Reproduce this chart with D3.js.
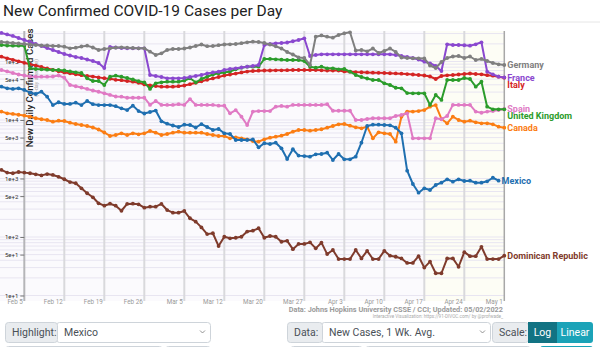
<!DOCTYPE html>
<html>
<head>
<meta charset="utf-8">
<script src="https://cdn.jsdelivr.net/npm/d3@7"></script>
<style>
  body { margin: 0; background: #fff; }
  svg { display: block; font-family: Roboto, "Helvetica Neue", Arial, sans-serif; }
</style>
</head>
<body>
<svg id="chart" width="600" height="347"></svg>
<script>
// Daily new cases, 7-day average, one value per day starting 2022-02-01
const firstDay = "2022-02-01";

const germany = [215500,211300,207200,203100,199200,195300,191500,187700,187700,184100,184100,179100,168100,172100,180500,186400,173500,157300,163600,168100,172100,174900,172100,170100,168100,168100,147100,129200,138100,157300,163600,163600,166800,173500,184100,195300,182600,184100,189900,195300,196800,199200,205500,213000,218100,215500,207200,195300,181900,166800,145400,131700,117000,114800,87100,265400,278400,265400,255200,283800,303400,315700,154200,157300,149400,166800,139700,151200,166800,145400,117000,114800,113400,113400,112500,85400,77400,98100,114800,121800,124200,114800,121800,106100,110400,102000,94300,89600,87100];

const france = [307200,289600,273000,252200,233200,215500,199200,184100,170100,157300,145400,134300,126600,119300,114800,108200,102000,94300,77400,177000,173500,170100,168100,168100,168100,168100,58800,56500,54300,51600,51600,51600,52200,54300,56500,58800,62300,64900,66900,71600,74400,76500,79000,81500,83800,87100,191500,199200,204700,207200,211300,222000,233000,249000,124200,129200,132700,132700,132700,132700,132700,132700,132700,132700,132700,132700,132700,132700,132700,129200,124200,119300,114800,108200,99200,93200,83800,68800,196800,191500,191500,189300,186400,196800,213000,66900,60400,54900,53500];

const italy = [120800,113400,106900,100800,95000,89600,85100,80500,76200,72100,68000,64900,62800,60400,58300,56500,55200,53500,51800,50600,48600,47900,46400,45100,43200,40600,39200,38100,37100,37100,37100,37800,38900,40900,43200,45900,48600,51400,54300,57400,59900,62100,64900,67200,68800,69600,70200,70200,70700,70700,71000,71600,71600,71600,71600,71600,70700,70200,70200,69900,67500,67000,66000,65500,65000,64500,64000,63600,63000,62400,61800,61000,59900,58700,57600,55400,50200,56500,58100,58800,59900,61100,62300,61100,60400,58300,57200,54900,52800];

const spain = [71600,67500,63600,59900,57600,55400,54900,54900,54900,55400,57600,52800,39600,37700,35900,33900,31900,30400,28600,26800,25200,25000,24000,24000,24000,24000,18100,21100,18100,18100,18100,18600,18100,22800,18100,18100,18100,18100,17600,17600,13000,14800,11400,8210,13900,14200,14200,14200,16900,17400,16900,18100,18100,18100,18100,18100,18100,18600,14400,14400,14400,14400,10000,10000,10400,10700,10700,10700,10700,11700,12200,13000,4860,4860,4860,4860,10700,10300,11700,18100,18100,18100,18100,13900,13300,13900,14200,14800,15400];

const unitedKingdom = [191500,187700,186400,186400,186400,76500,74400,73600,72400,71600,71600,70200,67500,65400,63600,51600,46400,46400,39600,54900,57200,54900,52200,49200,45900,44100,33900,42400,44100,45100,45100,45100,47300,51600,44100,50200,54900,59900,62800,64900,67500,73600,78300,81500,81500,81500,110400,110400,109000,107300,106100,106100,106100,102000,81500,78300,81500,76500,76500,73600,74400,66900,58800,54300,51200,48300,48300,42400,39600,35600,34800,28900,28600,28600,28600,18100,26800,22000,48300,48300,48300,52200,50200,37100,45100,16900,15200,15200,15200];

const canada = [13900,13000,12700,12300,11900,11400,10700,10300,10000,9350,9730,9610,8990,8540,8210,7900,7440,6880,6110,5330,5540,5920,5540,5920,5690,5920,6490,6070,5540,5760,6070,6310,6070,6070,6070,6070,5760,5540,5330,5330,4860,5060,4860,4680,4370,4260,4680,4980,5180,5390,5760,6310,6750,6750,6560,6750,6940,7390,7900,8440,8540,7990,7500,7210,7680,4860,6160,5920,5760,4260,11400,13900,13900,14200,14800,16900,18000,10400,8780,11400,10000,9350,9730,9130,8780,8780,8440,7680,7390];

const mexico = [37100,34800,33900,34800,32600,29300,27800,30500,25000,18000,20100,18800,18800,19800,18000,21100,18600,18000,18000,18000,17200,15800,14800,17600,14200,12900,13700,14500,9500,8640,8050,7590,8310,8210,7440,8480,7590,6750,7020,5920,5760,4550,4550,4550,4640,3410,4000,3890,4090,3280,2150,3160,2460,2420,2360,2590,2620,2760,2070,2620,2130,2130,2360,4090,7900,8310,8310,8210,8120,7390,5920,1360,805,572,680,636,774,848,969,882,969,906,917,848,848,896,1030,917];

const dominicanRepublic = [1400,1260,1230,1290,1260,1230,1180,1130,1190,1150,1070,970,870,830,680,560,477,377,343,371,343,281,367,371,362,317,330,330,367,289,260,260,278,209,183,146,112,116,70,101,95,97,101,124,128,141,97,104,101,83,86,62,76,76,81,64,80,51,60,42,42,42,60,43,58,42,42,58,48,46,43,36,36,47,30,38,24,24,43,43,31,55,47,47,68,42,42,42,48];

const countryNames = ["Dominican Republic","Canada","Spain","Italy","United Kingdom","France","Germany","Mexico"];
const countryValues = [dominicanRepublic, canada, spain, italy, unitedKingdom, france, germany, mexico];

const xTickLabels = ["Feb 5","Feb 12","Feb 19","Feb 26","Mar 5","Mar 12","Mar 20","Mar 27","Apr 3","Apr 10","Apr 17","Apr 24","May 1"];
const yTickValues = [10, 50, 100, 500, 1000, 5000, 10000, 50000, 100000];

// line colours per country
const palette = {
  "Germany": "#7f7f7f",
  "France": "#8a48cf",
  "Italy": "#d42424",
  "Spain": "#e07ac4",
  "United Kingdom": "#2b9c2b",
  "Canada": "#fb7d13",
  "Mexico": "#1f6fb0",
  "Dominican Republic": "#7f3b2c"
};

const svg = d3.select("#chart");
const parse = d3.utcParse("%Y-%m-%d");
const day0 = parse(firstDay);
const tickStart = d3.utcDay.offset(day0, 4);
const tickDates = xTickLabels.map((_, i) => d3.utcDay.offset(tickStart, 7 * i));

const plotTop = 31, plotBottom = 301, plotLeft = 0;
const x = d3.scaleUtc()
  .domain([tickDates[0], tickDates[tickDates.length - 1]])
  .range([24.3, 504.3]);
const y = d3.scaleLog()
  .domain([10, 332000])
  .range([295.5, 31]);
const plotRight = x(tickDates[tickDates.length - 1]);

// page title and header rule
svg.append("text")
  .attr("x", 3).attr("y", 16)
  .attr("font-size", 15.5).attr("fill", "#222")
  .text("New Confirmed COVID-19 Cases per Day");
svg.append("line")
  .attr("x1", 0).attr("x2", 600).attr("y1", 22).attr("y2", 22)
  .attr("stroke", "#e6e6e6");

// plot background and the highlighted recent weeks
svg.append("rect")
  .attr("x", plotLeft).attr("y", plotTop)
  .attr("width", plotRight - plotLeft).attr("height", plotBottom - plotTop)
  .attr("fill", "#fbfafd");
svg.append("rect")
  .attr("x", x(tickDates[10])).attr("y", plotTop)
  .attr("width", plotRight - x(tickDates[10])).attr("height", plotBottom - plotTop)
  .attr("fill", "#fdfdf5");

// horizontal log grid
const gridValues = [];
for (let e = 1; e <= 5; e++) {
  for (let k = 1; k <= 9; k++) {
    const v = k * Math.pow(10, e);
    if (v >= 10 && v <= 332000) gridValues.push(v);
  }
}
svg.append("g").selectAll("line").data(gridValues).join("line")
  .attr("x1", plotLeft).attr("x2", plotRight)
  .attr("y1", d => y(d)).attr("y2", d => y(d))
  .attr("stroke", "#e8e5f1").attr("stroke-width", 1);

// weekly vertical grid
svg.append("g").selectAll("line").data(tickDates.slice(1, -1)).join("line")
  .attr("x1", d => x(d)).attr("x2", d => x(d))
  .attr("y1", plotTop).attr("y2", plotBottom)
  .attr("stroke", "#d9d9dc").attr("stroke-width", 2);
svg.append("line")
  .attr("x1", plotRight).attr("x2", plotRight)
  .attr("y1", plotTop).attr("y2", plotBottom)
  .attr("stroke", "#a8a8a8").attr("stroke-width", 1.5);

// x axis labels
const xAxis = d3.axisBottom(x)
  .tickValues(tickDates)
  .tickFormat((d, i) => xTickLabels[i])
  .tickSize(0);
const gx = svg.append("g").attr("transform", `translate(0,${plotBottom - 6})`).call(xAxis);
gx.select(".domain").remove();
gx.selectAll("text")
  .attr("text-anchor", "end")
  .attr("dx", -2).attr("dy", "0.9em")
  .attr("font-size", 6.3).attr("fill", "#999")
  .attr("font-family", "Roboto, sans-serif");

// y axis
const yAxis = d3.axisLeft(y)
  .tickValues(yTickValues)
  .tickFormat(d3.format(".0e"))
  .tickSize(4).tickPadding(2);
const gy = svg.append("g").attr("transform", `translate(${x(tickDates[0])},0)`).call(yAxis);
gy.select(".domain")
  .attr("d", `M0,${plotTop}V${plotBottom}`)
  .attr("stroke", "#b5b5b8").attr("stroke-width", 2);
gy.selectAll(".tick line").attr("stroke", "#777");
gy.selectAll("text").attr("font-size", 6).attr("fill", "#333")
  .attr("font-family", "Roboto, sans-serif");

// y axis title
svg.append("text")
  .attr("transform", "translate(33,88) rotate(-90)")
  .attr("text-anchor", "middle")
  .attr("font-size", 9.6).attr("font-weight", 500).attr("fill", "#222")
  .text("New Daily Confirmed Cases");
svg.append("text")
  .attr("transform", "translate(37.5,78) rotate(-90)")
  .attr("text-anchor", "middle")
  .attr("font-size", 5.5).attr("fill", "#aaa")
  .text("(7-day average)");

// series
const series = countryNames.map((name, i) => ({
  name,
  color: palette[name],
  points: countryValues[i].map((v, j) => ({ date: d3.utcDay.offset(day0, j), value: v }))
}));

const line = d3.line()
  .x(d => x(d.date))
  .y(d => y(d.value));

const gSeries = svg.append("g").selectAll("g").data(series).join("g");
gSeries.append("path")
  .attr("d", d => line(d.points))
  .attr("fill", "none")
  .attr("stroke", d => d.color)
  .attr("stroke-width", 2)
  .attr("stroke-linejoin", "round");
gSeries.selectAll("circle").data(d => d.points.map(p => ({ ...p, color: d.color }))).join("circle")
  .attr("cx", d => x(d.date)).attr("cy", d => y(d.value))
  .attr("r", 1.9).attr("fill", d => d.color);

// end-of-line country labels, nudged apart when they collide
const labels = series.map(s => {
  const last = s.points[s.points.length - 1];
  return { name: s.name, color: s.color, lx: x(last.date) + 3, ly: y(last.value) };
});
labels.sort((a, b) => a.ly - b.ly);
for (let i = 1; i < labels.length; i++) {
  if (labels[i].ly - labels[i - 1].ly < 7) labels[i].ly = labels[i - 1].ly + 7;
}
svg.append("g").selectAll("text").data(labels).join("text")
  .attr("x", d => d.lx).attr("y", d => d.ly)
  .attr("dy", "0.35em")
  .attr("font-size", 9).attr("font-weight", 700)
  .attr("fill", d => d.color)
  .text(d => d.name);

// source notes
svg.append("text")
  .attr("x", 503).attr("y", 311.5).attr("text-anchor", "end")
  .attr("font-size", 7.3).attr("font-weight", 700).attr("fill", "#9a9a9a")
  .text("Data: Johns Hopkins University CSSE / CCI; Updated: 05/02/2022");
svg.append("text")
  .attr("x", 503).attr("y", 317.5).attr("text-anchor", "end")
  .attr("font-size", 4.6).attr("fill", "#aaa")
  .text("Interactive Visualization: https://91-DIVOC.com/ by @profwade_");

// control bar
const controls = svg.append("g").attr("font-size", 10.5).attr("fill", "#495057");
function prepend(x0, w, label) {
  controls.append("rect").attr("x", x0 + 0.5).attr("y", 322.5).attr("width", w).attr("height", 20)
    .attr("rx", 3).attr("fill", "#e9ecef").attr("stroke", "#ced4da");
  controls.append("text").attr("x", x0 + 7).attr("y", 336).attr("fill", "#495057").text(label);
}
function selectBox(x0, w, label) {
  controls.append("rect").attr("x", x0 + 0.5).attr("y", 322.5).attr("width", w).attr("height", 20)
    .attr("rx", 3).attr("fill", "#fff").attr("stroke", "#ced4da");
  controls.append("text").attr("x", x0 + 8).attr("y", 336).attr("fill", "#495057").text(label);
  controls.append("path")
    .attr("d", `M${x0 + w - 10},330.5l2.5,2.5l2.5,-2.5`)
    .attr("fill", "none").attr("stroke", "#777").attr("stroke-width", 0.8);
}
selectBox(56, 154, "Mexico");
prepend(5, 52, "Highlight:");
selectBox(321, 169, "New Cases, 1 Wk. Avg.");
prepend(287, 35, "Data:");
prepend(492, 36, "Scale:");
controls.append("rect").attr("x", 528).attr("y", 322).attr("width", 29).attr("height", 21)
  .attr("fill", "#127383");
controls.append("text").attr("x", 542.5).attr("y", 336).attr("text-anchor", "middle")
  .attr("fill", "#fff").text("Log");
controls.append("rect").attr("x", 557).attr("y", 322).attr("width", 36).attr("height", 21)
  .attr("rx", 3).attr("fill", "#1ba3b8");
controls.append("rect").attr("x", 557).attr("y", 322).attr("width", 6).attr("height", 21)
  .attr("fill", "#1ba3b8");
controls.append("text").attr("x", 575).attr("y", 336).attr("text-anchor", "middle")
  .attr("fill", "#fff").text("Linear");

// next control row, just entering the view
const row2 = svg.append("g");
[[5, 157, "#fff"], [165, 45, "#e9ecef"], [290, 72, "#fff"], [365, 165, "#e9ecef"]].forEach(([x0, w, f]) => {
  row2.append("rect").attr("x", x0 + 0.5).attr("y", 346.5).attr("width", w).attr("height", 20)
    .attr("rx", 3).attr("fill", f).attr("stroke", "#ced4da");
});
row2.append("rect").attr("x", 540).attr("y", 346).attr("width", 53).attr("height", 20)
  .attr("rx", 3).attr("fill", "#1ba3b8");
</script>
</body>
</html>
